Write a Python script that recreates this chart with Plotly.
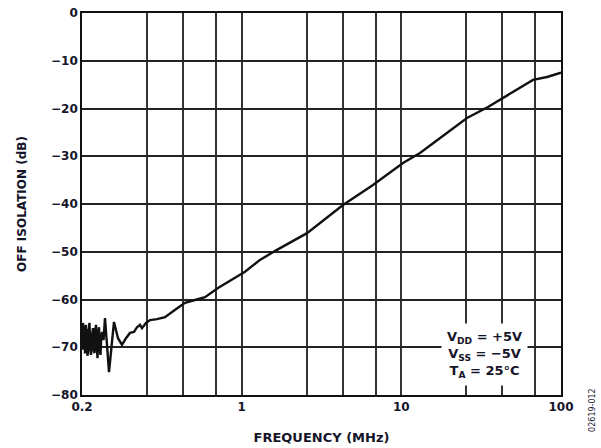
import plotly.graph_objects as go

# Frequency values in axis units (MHz scale as drawn), isolation in dB
freq_mhz = [0.1, 0.1008, 0.1015, 0.1022, 0.1029, 0.1037, 0.1044, 0.1052, 0.1059,
            0.1067, 0.1075, 0.1082, 0.1090, 0.1102, 0.1114, 0.1126, 0.1139, 0.1155,
            0.1172, 0.1185, 0.1198, 0.1211, 0.1224, 0.1237, 0.1251, 0.1264, 0.1278,
            0.1292, 0.1306, 0.1320, 0.1335, 0.1364, 0.1393, 0.1434, 0.1476,
            0.1519, 0.1586, 0.1681, 0.1780, 0.1886, 0.1998, 0.2117, 0.2211, 0.2307,
            0.2375, 0.2517, 0.2667, 0.2950, 0.3310, 0.3850, 0.4416, 0.5100, 0.5892,
            0.7109, 0.8500, 1.049, 1.302, 1.664, 2.566, 4.312, 6.645, 10.24, 13.09,
            18.5, 25.78, 34.90, 43.35, 52.0, 61.25, 66.78, 81.73, 98.58, 100]
off_isolation_db = [-66.0, -70.5, -64.9, -69.0, -70.2, -65.5, -71.3, -67.0, -65.3,
                    -70.4, -66.2, -71.8, -71.0, -66.5, -64.9, -70.0, -71.6, -67.5,
                    -66.0, -70.8, -71.2, -66.4, -65.3, -69.8, -72.3, -67.0, -65.8,
                    -70.5, -71.6, -68.0, -66.8, -68.5, -63.9, -69.5, -75.2,
                    -71.0, -64.7, -68.1, -69.5, -68.1, -67.0, -66.8, -65.8, -65.3,
                    -66.0, -64.9, -64.3, -64.1, -63.7, -62.1, -60.7, -60.1, -59.5,
                    -57.6, -56.0, -54.2, -51.7, -49.6, -46.1, -40.2, -36.0, -31.4, -29.3,
                    -25.5, -22.0, -19.7, -17.8, -16.2, -14.7, -14.0, -13.4, -12.6, -12.5]

x_tickvals = [0.1, 0.255, 0.43, 0.689, 1, 2.55, 4.3, 6.89, 10, 25.5, 43, 68.9, 100]
x_ticktext = ["0.2", "", "", "", "1", "", "", "", "10", "", "", "", "100"]
y_tickvals = [-80, -70, -60, -50, -40, -30, -20, -10, 0]
y_ticktext = ["−80", "−70", "−60", "−50", "−40", "−30", "−20", "−10", "0"]

FONT = "DejaVu Sans"
TXT = "#15152a"

fig = go.Figure()
fig.add_trace(go.Scatter(x=freq_mhz, y=off_isolation_db, mode="lines",
                         line=dict(color="#111111", width=2.4), showlegend=False))

fig.update_layout(
    width=601, height=448,
    margin=dict(l=82, r=40, t=13, b=53),
    paper_bgcolor="white", plot_bgcolor="white",
    font=dict(family=FONT, size=12, color=TXT),
    xaxis=dict(type="log", range=[-1, 2], tickvals=x_tickvals, ticktext=x_ticktext,
               showgrid=True, gridcolor="#333333", gridwidth=1.6,
               showline=True, linecolor="#111111", linewidth=1.6, mirror=True,
               ticks="", zeroline=False, automargin=False,
               tickfont=dict(family=FONT, size=12, color=TXT, weight="bold"),
               title=dict(text="<b>FREQUENCY (MHz)</b>", standoff=20,
                          font=dict(family=FONT, size=13, color=TXT))),
    yaxis=dict(range=[-80, 0], tickvals=y_tickvals, ticktext=y_ticktext,
               showgrid=True, gridcolor="#222222", gridwidth=1.6,
               showline=True, linecolor="#111111", linewidth=1.6, mirror=True,
               ticks="", zeroline=False, automargin=False,
               tickfont=dict(family=FONT, size=12, color=TXT, weight="bold"),
               title=dict(text="<b>OFF ISOLATION (dB)</b>", standoff=22,
                          font=dict(family=FONT, size=12, color=TXT))),
)

fig.add_annotation(
    xref="paper", yref="paper", x=0.841, y=0.107,
    xanchor="center", yanchor="middle",
    text="<b>V<sub>DD</sub> = +5V<br>V<sub>SS</sub> = −5V<br>T<sub>A</sub> = 25°C</b>",
    showarrow=False, align="center", bgcolor="white", borderpad=5,
    font=dict(family=FONT, size=13, color=TXT),
)

fig.add_annotation(
    xref="paper", yref="paper", x=1.066, y=-0.04,
    xanchor="center", yanchor="middle",
    text="02619-012", textangle=-90, showarrow=False,
    font=dict(family=FONT, size=8, color=TXT),
)

fig.write_html("out.html", config={"displayModeBar": False},
               post_script="document.body.style.margin='0';document.body.style.overflow='hidden';")
